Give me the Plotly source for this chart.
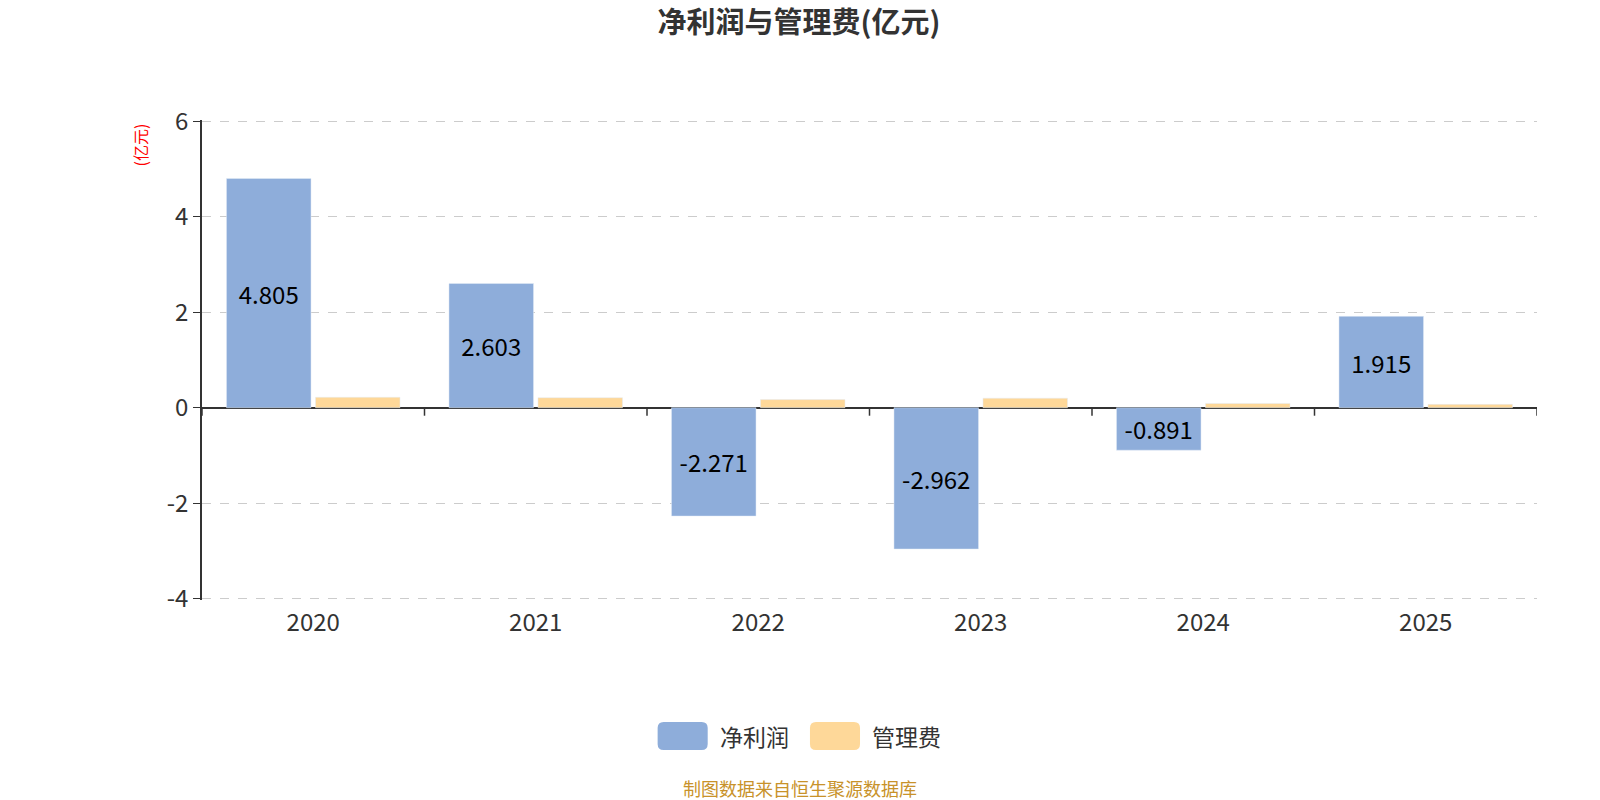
import plotly.graph_objects as go

years = ["2020", "2021", "2022", "2023", "2024", "2025"]
net_profit = [4.805, 2.603, -2.271, -2.962, -0.891, 1.915]
mgmt_fee = [0.22, 0.21, 0.17, 0.20, 0.09, 0.07]
y_ticks = [-4, -2, 0, 2, 4, 6]
series_names = ["净利润", "管理费"]

FONT = "Noto Sans CJK SC"
BLUE = "#8EADDA"
ORANGE = "#FED899"

fig = go.Figure()
fig.add_trace(go.Bar(
    x=years, y=net_profit, name=series_names[0], marker_color=BLUE,
    text=[f"{v:.3f}" for v in net_profit], textposition="inside",
    insidetextanchor="middle", textangle=0, constraintext="none",
    textfont=dict(family=FONT, size=24, color="#000000"),
    showlegend=False,
))
fig.add_trace(go.Bar(
    x=years, y=mgmt_fee, name=series_names[1], marker_color=ORANGE,
    showlegend=False,
))

# category boundary ticks on the zero line
shapes = []
for i in range(len(years) + 1):
    shapes.append(dict(
        type="line", xref="x", yref="y", x0=i - 0.5, x1=i - 0.5,
        ysizemode="pixel", yanchor=0, y0=0, y1=-8,
        line=dict(color="#333333", width=1.5),
    ))


def rounded_rect(x0, x1, y0, y1, rx, ry):
    return (f"M {x0+rx},{y0} L {x1-rx},{y0} Q {x1},{y0} {x1},{y0-ry} "
            f"L {x1},{y1+ry} Q {x1},{y1} {x1-rx},{y1} L {x0+rx},{y1} "
            f"Q {x0},{y1} {x0},{y1+ry} L {x0},{y0-ry} Q {x0},{y0} {x0+rx},{y0} Z")


# custom legend (rounded swatches)
legend_items = [(0.3413, 0.3788, 0.3865, BLUE), (0.4554, 0.4929, 0.5004, ORANGE)]
annotations = []
for (bx0, bx1, tx, col), name in zip(legend_items, series_names):
    shapes.append(dict(type="path", xref="paper", yref="paper",
                       path=rounded_rect(bx0, bx1, -0.2542, -0.3125, 0.0045, 0.0125),
                       fillcolor=col, line=dict(width=0)))
    annotations.append(dict(text=name, xref="paper", yref="paper", x=tx, y=-0.2833,
                            xanchor="left", yanchor="middle", showarrow=False,
                            font=dict(family=FONT, size=23, color="#333333")))

annotations += [
    dict(text="(亿元)", xref="paper", yref="paper", x=-0.0464, y=0.947,
         textangle=-90, showarrow=False, xanchor="center", yanchor="middle",
         font=dict(family=FONT, size=16, color="#FF0000")),
    dict(text="制图数据来自恒生聚源数据库", xref="paper", yref="paper", x=0.448, y=-0.3917,
         showarrow=False, xanchor="center", yanchor="middle",
         font=dict(family=FONT, size=18, color="#C8922A")),
]

fig.update_layout(
    width=1600, height=800,
    paper_bgcolor="white", plot_bgcolor="white",
    margin=dict(l=202, r=63, t=120, b=200),
    font=dict(family=FONT, color="#333333"),
    title=dict(text="<b>净利润与管理费(亿元)</b>", x=0.4994, xanchor="center", xref="container",
               y=0.9719, yanchor="middle", yref="container",
               font=dict(family=FONT, size=29, color="#333333")),
    barmode="group", bargap=0.2, bargroupgap=0.05,
    showlegend=False,
    shapes=shapes,
    annotations=annotations,
    xaxis=dict(type="category", range=[-0.5, 5.5], showline=False, ticks="",
               showgrid=False, tickfont=dict(family=FONT, size=24, color="#333333"),
               ticklabelstandoff=6),
    yaxis=dict(range=[-4.03, 6.03], tickvals=y_ticks, ticktext=[str(v) for v in y_ticks],
               showline=True, linecolor="#333333",
               linewidth=1.5, ticks="outside", ticklen=7, tickcolor="#333333",
               showgrid=True, gridcolor="#CCCCCC", griddash="dash", gridwidth=1,
               zeroline=True, zerolinecolor="#333333", zerolinewidth=1.5,
               tickfont=dict(family=FONT, size=24, color="#333333")),
)

fig.write_html("out.html", config={"displayModeBar": False},
               post_script="document.body.style.margin='0';document.body.style.padding='0';")
